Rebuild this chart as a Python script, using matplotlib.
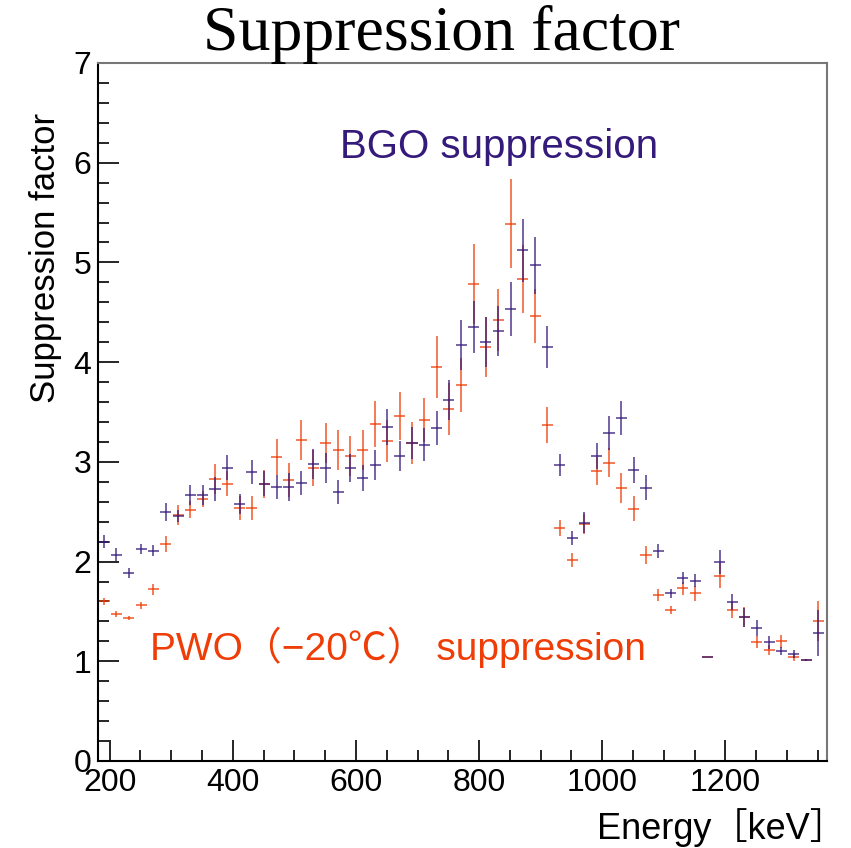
import matplotlib
matplotlib.use("Agg")
import matplotlib.pyplot as plt
import numpy as np

# bin centres [keV], 20 keV bins
energy = np.arange(191, 1352, 20)

bgo = [2.20, 2.07, 1.89, 2.13, 2.11, 2.50, 2.46, 2.67, 2.67, 2.73,
       2.94, 2.58, 2.90, 2.78, 2.75, 2.75, 2.79, 2.98, 2.94, 2.70,
       2.94, 2.84, 2.97, 3.35, 3.06, 3.19, 3.17, 3.34, 3.62, 4.17,
       4.35, 4.20, 4.31, 4.53, 5.12, 4.97, 4.15, 2.97, 2.24, 2.39,
       3.06, 3.29, 3.44, 2.92, 2.74, 2.11, 1.68, 1.84, 1.81, 1.04,
       2.00, 1.59, 1.44, 1.33, 1.19, 1.10, 1.075, 1.015, 1.28]
bgo_err = [0.065, 0.065, 0.05, 0.05, 0.055, 0.09, 0.06, 0.10, 0.10, 0.12,
           0.125, 0.10, 0.12, 0.125, 0.12, 0.14, 0.12, 0.15, 0.15, 0.12,
           0.14, 0.13, 0.15, 0.18, 0.15, 0.16, 0.165, 0.17, 0.20, 0.25,
           0.26, 0.25, 0.25, 0.27, 0.32, 0.29, 0.21, 0.11, 0.07, 0.105,
           0.13, 0.17, 0.175, 0.13, 0.125, 0.07, 0.045, 0.06, 0.07, 0.0,
           0.12, 0.08, 0.095, 0.08, 0.065, 0.04, 0.04, 0.01, 0.23]

pwo = [1.60, 1.47, 1.43, 1.56, 1.72, 2.18, 2.47, 2.52, 2.63, 2.83,
       2.78, 2.54, 2.54, 2.78, 3.05, 2.82, 3.22, 2.94, 3.19, 3.12,
       3.06, 3.12, 3.38, 3.21, 3.46, 3.19, 3.42, 3.95, 3.53, 3.77,
       4.78, 4.15, 4.42, 5.39, 4.83, 4.46, 3.37, 2.34, 2.02, 2.38,
       2.91, 2.99, 2.74, 2.53, 2.07, 1.66, 1.51, 1.73, 1.68, 1.04,
       1.86, 1.51, 1.44, 1.19, 1.11, 1.20, 1.04, 1.015, 1.40]
pwo_err = [0.035, 0.03, 0.02, 0.035, 0.055, 0.08, 0.10, 0.085, 0.08, 0.15,
           0.125, 0.12, 0.12, 0.14, 0.18, 0.17, 0.20, 0.18, 0.20, 0.20,
           0.20, 0.20, 0.23, 0.21, 0.24, 0.21, 0.225, 0.31, 0.26, 0.27,
           0.40, 0.30, 0.31, 0.45, 0.34, 0.27, 0.18, 0.08, 0.07, 0.10,
           0.14, 0.145, 0.15, 0.125, 0.09, 0.06, 0.04, 0.07, 0.075, 0.0,
           0.13, 0.08, 0.10, 0.06, 0.05, 0.065, 0.035, 0.01, 0.20]

c_bgo = "#341a7a"
c_pwo = "#ee3d06"

sans = ["Liberation Sans", "DejaVu Sans"]
cjk = ["Liberation Sans", "Noto Sans CJK SC", "DejaVu Sans"]

W, H = 851, 848
fig = plt.figure(figsize=(W / 100, H / 100), dpi=100)
ax = fig.add_axes([98 / W, 1 - 761 / H, 729 / W, 698 / H])

ax.errorbar(energy, pwo, yerr=pwo_err, xerr=9, fmt="none", ecolor=c_pwo,
            elinewidth=1.2, capsize=0, alpha=0.8)
ax.errorbar(energy, bgo, yerr=bgo_err, xerr=9, fmt="none", ecolor=c_bgo,
            elinewidth=1.2, capsize=0, alpha=0.8)

ax.set_xlim(181, 1365)
ax.set_ylim(0, 7)
ax.set_xticks([200, 400, 600, 800, 1000, 1200])
ax.set_xticks(np.arange(200, 1365, 50), minor=True)
ax.set_yticks(range(8))
ax.set_yticks(np.arange(0, 7.01, 0.2), minor=True)
ax.tick_params(which="both", direction="in", top=False, right=False, width=1.2)
ax.tick_params(which="major", length=15, labelsize=23, pad=5)
ax.tick_params(which="minor", length=8)
for lab in ax.get_xticklabels() + ax.get_yticklabels():
    lab.set_family(sans)

for s in ["left", "bottom"]:
    ax.spines[s].set_color("black")
    ax.spines[s].set_linewidth(1.5)
for s in ["top", "right"]:
    ax.spines[s].set_color("#777777")
    ax.spines[s].set_linewidth(1.5)

fig.text(442 / W, 1 - 35 / H, "Suppression factor", family="Liberation Serif",
         fontsize=46, ha="center", va="center")
fig.text(46 / W, 1 - 258 / H, "Suppression factor", family=sans,
         fontsize=25, rotation=90, ha="center", va="center")
fig.text(846 / W, 1 - 828 / H, "Energy［keV］", family=cjk,
         fontsize=26, ha="right", va="center")

fig.text(340 / W, 1 - 147 / H, "BGO suppression", family=sans, fontsize=29,
         color=c_bgo, ha="left", va="center")
fig.text(150 / W, 1 - 647 / H, "PWO（−20℃） suppression", family=cjk,
         fontsize=28, color=c_pwo, ha="left", va="center")

fig.savefig("out.png", dpi=100)
